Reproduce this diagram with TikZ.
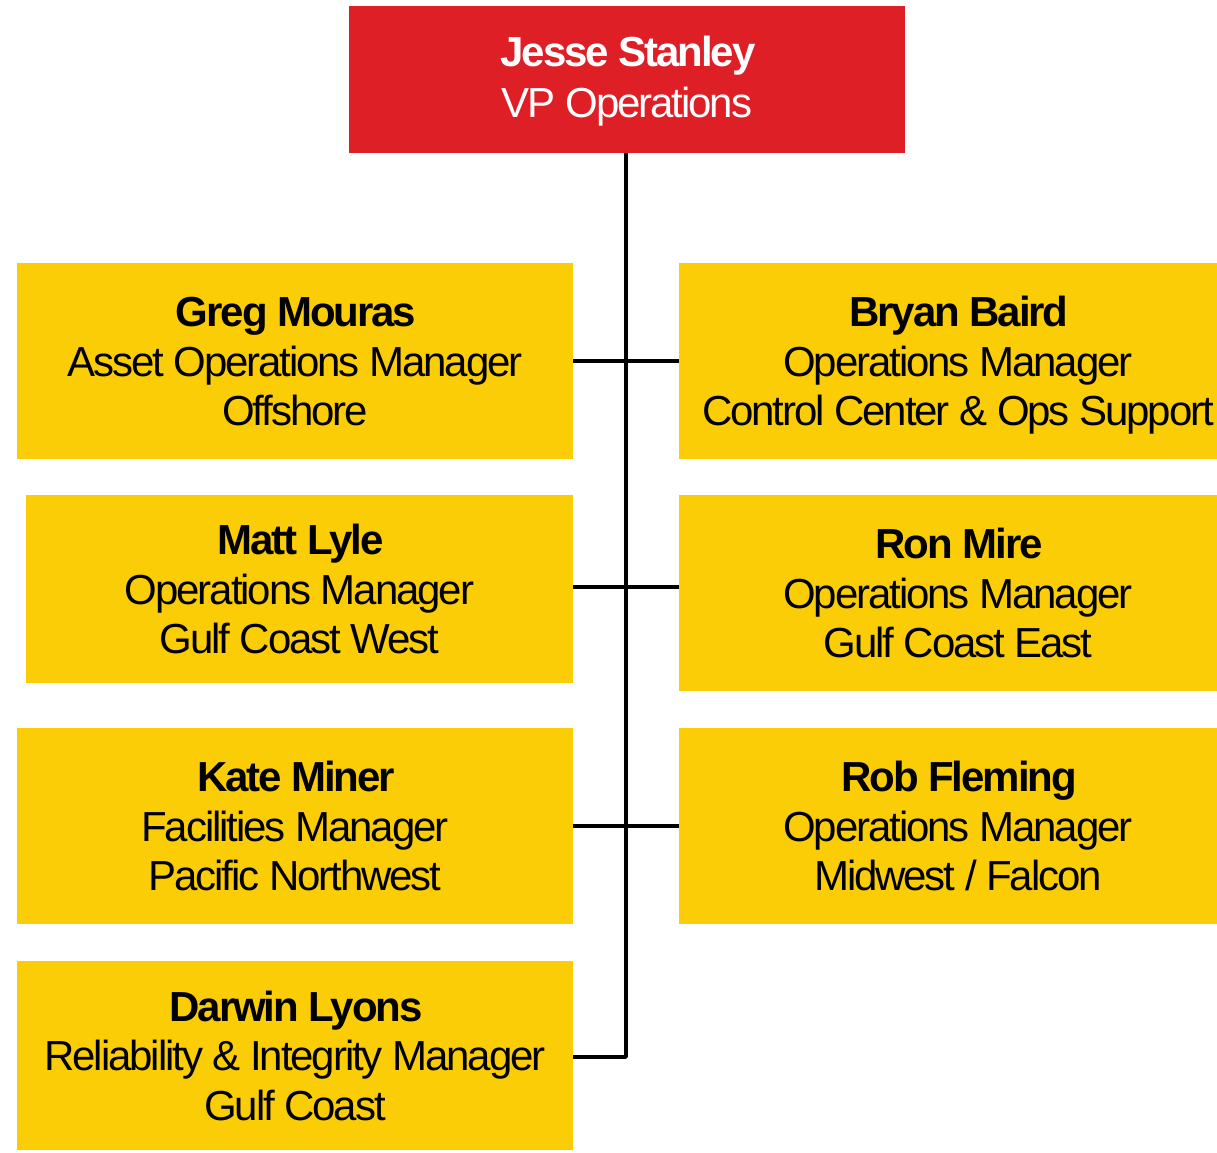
\documentclass[tikz,border=0pt]{standalone}
\usepackage{fontspec}
\setmainfont[LetterSpace=-5]{Liberation Sans}
\definecolor{vpred}{RGB}{223,31,38}
\definecolor{mgryellow}{RGB}{250,205,6}
\newcommand\mgrtext[3]{\rule{0pt}{40pt}\textbf{#1}\\#2\\#3\rule[-10pt]{0pt}{10pt}}

\begin{document}
\begin{tikzpicture}[x=1pt,y=-1pt,line join=round,
  box/.style={rectangle,inner sep=0pt,align=center,
    font=\fontsize{42}{49.5}\selectfont},
  vpbox/.style={box,fill=vpred,text=white,minimum width=556pt,minimum height=147pt},
  mgrbox/.style={box,fill=mgryellow,text=black,minimum height=196pt},
  link/.style={line width=3.5pt}]
\useasboundingbox (0,0) rectangle (1217,1152);
\clip (0,0) rectangle (1217,1152);
\node[vpbox] (vp) at (627,79.5) {\rule{0pt}{35pt}\textbf{Jesse Stanley}\\[1.5pt]VP Operations\rule[-10pt]{0pt}{10pt}};
\node[mgrbox,minimum width=556pt] (greg) at (295,361) {\mgrtext{Greg Mouras}{Asset Operations Manager}{Offshore}};
\node[mgrbox,minimum width=547pt,minimum height=188pt] (matt) at (299.5,589) {\mgrtext{Matt Lyle}{Operations Manager}{Gulf Coast West}};
\node[mgrbox,minimum width=556pt] (kate) at (295,826) {\mgrtext{Kate Miner}{Facilities Manager}{Pacific Northwest}};
\node[mgrbox,minimum width=556pt,minimum height=189pt] (darwin) at (295,1055.5) {\mgrtext{Darwin Lyons}{Reliability \& Integrity Manager}{Gulf Coast}};
\node[mgrbox,minimum width=558pt] (bryan) at (958,361) {\mgrtext{Bryan Baird}{Operations Manager}{Control Center \& Ops Support}};
\node[mgrbox,minimum width=558pt] (ron) at (958,593) {\mgrtext{Ron Mire}{Operations Manager}{Gulf Coast East}};
\node[mgrbox,minimum width=558pt] (rob) at (958,826) {\mgrtext{Rob Fleming}{Operations Manager}{Midwest / Falcon}};
% reporting lines
\coordinate (trunk) at (626,1057);
\draw[link] (vp.south -| trunk) -- (trunk) -- (trunk -| darwin.east);
\draw[link] (greg.east) -- (bryan.west);
\draw[link] (matt.east |- 0,587) -- (ron.west |- 0,587);
\draw[link] (kate.east) -- (rob.west);
\end{tikzpicture}
\end{document}
